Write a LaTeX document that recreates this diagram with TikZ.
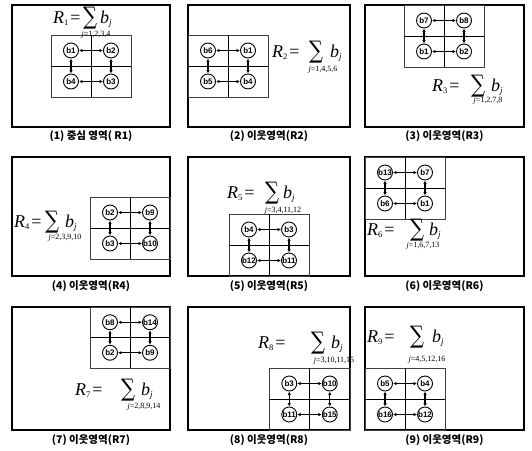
\documentclass[tikz,border=0pt]{standalone}
\usepackage{fontspec}
\usepackage{graphicx}
\setmainfont{Liberation Serif}
\newfontfamily\krfont{Noto Sans CJK KR}
\newfontfamily\lblfont{Liberation Sans}
\newfontfamily\sumfont{DejaVu Serif}
\usetikzlibrary{arrows.meta}

\tikzset{
  frame/.style={draw=black, line width=1.2pt},
  gridbox/.style={draw=black!75, line width=0.7pt},
  gridcross/.style={draw=black, line width=0.8pt},
  blk/.style={circle, draw=black, line width=0.9pt, fill=white, minimum size=15pt,
    inner sep=0pt, font=\lblfont\bfseries\fontsize{8}{8}\selectfont},
  link/.style={{Latex[length=3.5pt,width=3.5pt]}-{Latex[length=3.5pt,width=3.5pt]}, line width=0.8pt},
  vlink/.style={link, line width=1.3pt},
  captext/.style={font=\krfont\bfseries\fontsize{10.5}{10.5}\selectfont, inner sep=0pt},
  rsym/.style={anchor=base west, inner sep=0pt, font=\fontsize{18}{18}\selectfont},
  sumsym/.style={inner sep=0pt},
  limtext/.style={inner sep=0pt, font=\fontsize{8}{8}\selectfont}
}

% 2x2 block grid: id, x1, y1, x2, y2, top-left, top-right, bottom-left, bottom-right
\newcommand\blkgrid[9]{%
  \draw[gridbox] (#2,#3) rectangle (#4,#5);
  \draw[gridcross] ({(#2+#4)/2},#3) -- ({(#2+#4)/2},#5)
                   (#2,{(#3+#5)/2}) -- (#4,{(#3+#5)/2});
  \node[blk] (#1tl) at ({#2+(#4-#2)/4},{#3+(#5-#3)/4}) {#6};
  \node[blk] (#1tr) at ({#2+3*(#4-#2)/4},{#3+(#5-#3)/4}) {#7};
  \node[blk] (#1bl) at ({#2+(#4-#2)/4},{#3+3*(#5-#3)/4}) {#8};
  \node[blk] (#1br) at ({#2+3*(#4-#2)/4},{#3+3*(#5-#3)/4}) {#9};
  \draw[link] (#1tl) -- (#1tr);
  \draw[link] (#1bl) -- (#1br);
  \draw[vlink] (#1tl) -- (#1bl);
  \draw[vlink] (#1tr) -- (#1br);
}

% region sum: id, index, R x, baseline, sigma x, b x, limit x, limit y, limit text
\newcommand\sumlabel[9]{%
  \node[rsym] (#1r) at (#3,#4) {\textit{R}\raisebox{-2.5pt}{\fontsize{8.5}{8.5}\selectfont #2}\kern2pt=};
  \node[sumsym] (#1s) at (#5,{#4-5}) {\resizebox*{14pt}{22pt}{\sumfont ∑}};
  \node[rsym] (#1b) at (#6,#4) {\textit{b}\raisebox{-2.5pt}{\fontsize{9}{9}\selectfont\textit{j}}};
  \node[limtext] (#1j) at (#7,{#8+2}) {#9};
}

\begin{document}
\begin{tikzpicture}[x=1pt,y=-1pt]
\useasboundingbox (0,0) rectangle (532,450);

% ---- row 1
\draw[frame] (12,5) rectangle (170,127);
\blkgrid{p1}{51}{35}{131}{97}{b1}{b2}{b4}{b3}
\sumlabel{p1}{1}{53}{23}{90}{100}{96}{33}{\textit{j}=1,2,3,4}
\node[captext] (c1) at (91,136) {(1) 중심 영역( R1)};

\draw[frame] (188,5) rectangle (350,127);
\blkgrid{p2}{188}{35}{268}{97}{b6}{b1}{b5}{b4}
\sumlabel{p2}{2}{272}{57}{316}{330}{323}{68}{\textit{j}=1,4,5,6}
\node[captext] (c2) at (269,136) {(2) 이웃영역(R2)};

\draw[frame] (365,5) rectangle (524,127);
\blkgrid{p3}{404}{5}{484}{67}{b7}{b8}{b1}{b2}
\sumlabel{p3}{3}{432}{91}{478}{491}{488}{99}{\textit{j}=1,2,7,8}
\node[captext] (c3) at (444.5,136) {(3) 이웃영역(R3)};

% ---- row 2
\draw[frame] (12,157) rectangle (170,276);
\blkgrid{p4}{90}{197}{170}{259}{b2}{b9}{b3}{b10}
\sumlabel{p4}{4}{14}{227}{52}{65}{65}{236}{\textit{j}=2,3,9,10}
\node[captext] (c4) at (91,286) {(4) 이웃영역(R4)};

\draw[frame] (188,157) rectangle (350,276);
\blkgrid{p5}{229}{214}{309}{276}{b4}{b3}{b12}{b11}
\sumlabel{p5}{5}{227}{198}{272}{283}{283}{209}{\textit{j}=3,4,11,12}
\node[captext] (c5) at (269,286) {(5) 이웃영역(R5)};

\draw[frame] (365,157) rectangle (524,276);
\blkgrid{p6}{365}{157}{445}{219}{b13}{b7}{b6}{b1}
\sumlabel{p6}{6}{367}{235}{417}{429}{423}{244}{\textit{j}=1,6,7,13}
\node[captext] (c6) at (444.5,286) {(6) 이웃영역(R6)};

% ---- row 3
\draw[frame] (12,307) rectangle (170,430);
\blkgrid{p7}{90}{307}{170}{368}{b8}{b14}{b2}{b9}
\sumlabel{p7}{7}{75}{395}{128}{141}{144}{405}{\textit{j}=2,8,9,14}
\node[captext] (c7) at (91,440) {(7) 이웃영역(R7)};

\draw[frame] (188,307) rectangle (350,430);
\blkgrid{p8}{269}{368}{350}{430}{b3}{b10}{b11}{b15}
\sumlabel{p8}{8}{258}{348}{318}{331}{334}{359}{\textit{j}=3,10,11,15}
\node[captext] (c8) at (269,440) {(8) 이웃영역(R8)};

\draw[frame] (365,307) rectangle (524,430);
\blkgrid{p9}{365}{368}{445}{430}{b5}{b4}{b16}{b12}
\sumlabel{p9}{9}{367}{342}{417}{432}{427}{358}{\textit{j}=4,5,12,16}
\node[captext] (c9) at (444.5,440) {(9) 이웃영역(R9)};
\end{tikzpicture}
\end{document}
